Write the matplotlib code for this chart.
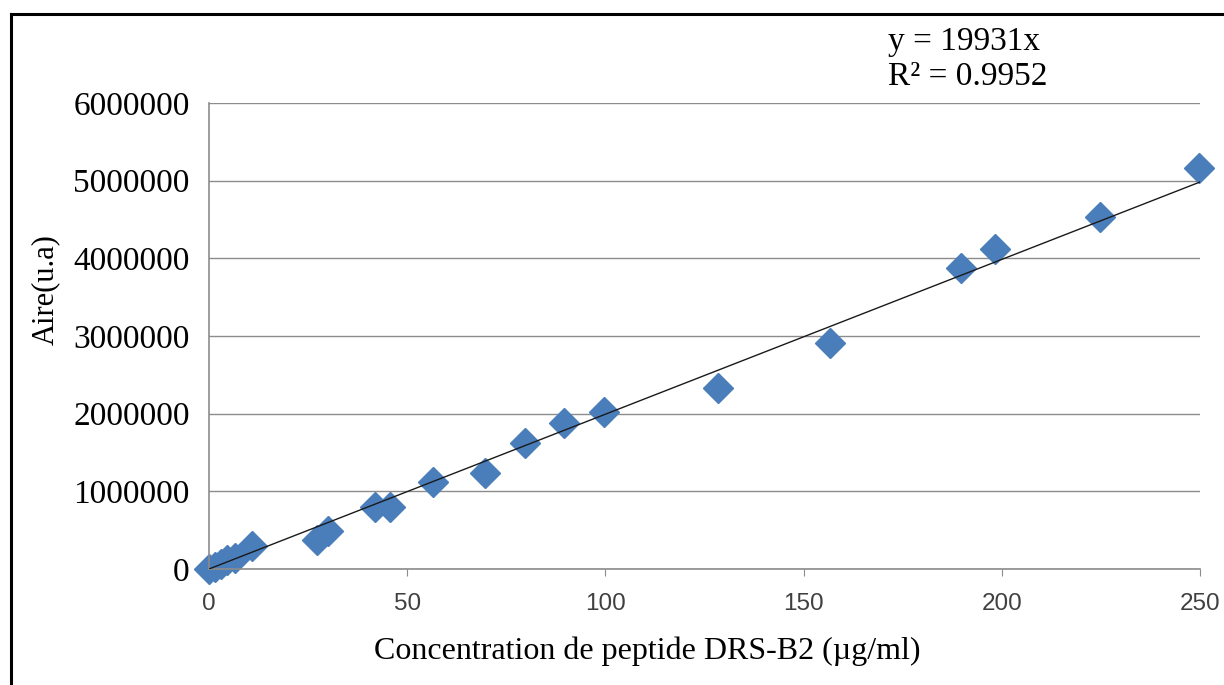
import numpy as np
import matplotlib
matplotlib.use("Agg")
import matplotlib.pyplot as plt
from matplotlib.lines import Line2D

conc = [0, 1.5, 3, 4.5, 6.6, 10.8, 27.2, 30, 41.9, 45.6, 56.6, 69.6, 79.7,
        89.6, 99.6, 128.5, 156.7, 189.8, 198.4, 224.8, 249.8]
aire = [0, 20000, 70000, 120000, 145000, 290000, 370000, 495000, 800000, 795000,
        1124000, 1232000, 1618000, 1884000, 2017000, 2327000, 2906000, 3879000,
        4116000, 4536000, 5167000]
slope = 19931
r2 = 0.9952
xticks = [0, 50, 100, 150, 200, 250]
yticks = [0, 1000000, 2000000, 3000000, 4000000, 5000000, 6000000]

SERIF = ["Liberation Serif", "DejaVu Serif"]
BLUE = "#4a7ebb"
GRID = "#8c8c8c"

fig = plt.figure(figsize=(12.24, 6.85), dpi=100)
ax = fig.add_axes([209/1224, 1 - 569/685, (1200 - 209)/1224, (569 - 103)/685])

ax.grid(axis="y", color=GRID, lw=1.0, zorder=0)
xl = np.array([0, 250])
ax.plot(xl, slope*xl, color="#1a1a1a", lw=1.0, zorder=3)
ax.plot(conc, aire, "D", color=BLUE, ms=15, mec=BLUE, zorder=2, clip_on=False)

ax.set_xlim(0, 250)
ax.set_ylim(0, 6000000)
ax.set_xticks(xticks)
ax.set_yticks(yticks)
ax.set_xticklabels([str(v) for v in xticks], fontfamily="Liberation Sans",
                   fontsize=17.5, color="#404040")
ax.set_yticklabels([str(v) for v in yticks], fontfamily=SERIF, fontsize=24)
ax.tick_params(axis="x", length=5, color=GRID, pad=12)
ax.tick_params(axis="y", length=0, pad=14)
for s in ("top", "right"):
    ax.spines[s].set_visible(False)
for s in ("left", "bottom"):
    ax.spines[s].set_color(GRID)
    ax.spines[s].set_linewidth(1.2)

ax.set_xlabel("Concentration de peptide DRS-B2 (µg/ml)", fontfamily=SERIF,
              fontsize=23, va="center")
ax.xaxis.set_label_coords(0.442, -0.176)
ax.set_ylabel("Aire(u.a)", fontfamily=SERIF, fontsize=22, va="center")
ax.yaxis.set_label_coords(-0.1655, 0.599)

fig.text(888/1224, 1 - 42/685, f"y = {slope}x", fontfamily=SERIF, fontsize=24,
         va="center", ha="left")
fig.text(888/1224, 1 - 77/685, f"R² = {r2}", fontfamily=SERIF, fontsize=24,
         va="center", ha="left")

# frame of the original chart area (top and left edges visible)
x0, y0 = 11/1224, 1 - 14/685
fig.add_artist(Line2D([x0, x0], [0, y0], color="black", lw=2.2, transform=fig.transFigure))
fig.add_artist(Line2D([x0, 1], [y0, y0], color="black", lw=2.2, transform=fig.transFigure))

fig.savefig("out.png", dpi=100)
